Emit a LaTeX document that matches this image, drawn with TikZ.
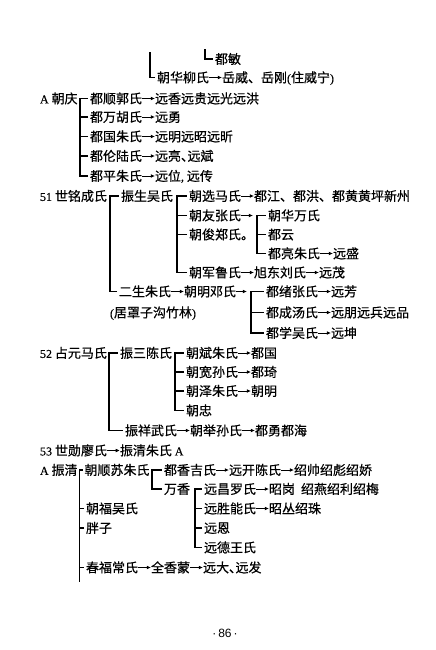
\documentclass[tikz,border=0pt]{standalone}
\usepackage{fontspec}
\setmainfont{Liberation Serif}
\setsansfont{Liberation Sans}
\newfontfamily\cjk[FakeBold=0.5]{Noto Sans CJK SC}
\newfontfamily\latf[FakeBold=0.4]{Liberation Serif}
\usetikzlibrary{arrows.meta,positioning}
\newcommand{\latn}[1]{{\latf\fontsize{12}{14}\selectfont #1}}
\newcommand{\dun}{\makebox[6.5pt][l]{、}}

\begin{document}
\begin{tikzpicture}[
  x=1pt, y=-1pt,
  node distance=13pt,
  nm/.style={anchor=west, inner sep=0pt, outer sep=0pt, text height=11.4pt, text depth=1.6pt, font=\cjk\fontsize{13}{15}\selectfont},
  arr/.style={-{Latex[length=4.2pt,width=3.8pt]}, line width=0.9pt},
  brk/.style={line width=1.1pt, shorten <=2pt, shorten >=2pt},
  tick/.style={line width=1.1pt, shorten <=2pt}
]
  \useasboundingbox (0,0) rectangle (436,650);

  \coordinate (dmtop) at (205,49);
  \node[nm] (dm) at (215,59) {都敏};
  \draw[tick] (dm.west) -| (dmtop);

  \coordinate (hltop) at (150,52);
  \node[nm] (hl) at (157,77.5) {朝华柳氏};
  \node[nm, right=of hl] (hls) {岳威、岳刚\latn{(}住威宁\latn{)}};
  \draw[tick] (hl.west) -| (hltop);
  \draw[arr] (hl) -- (hls);

  \node[nm] (cq) at (40,98.5) {\latn{A} 朝庆};
  \node[nm] (dsg) at (90,98.5) {都顺郭氏};
  \node[nm, right=of dsg] (dsgs) {远香远贵远光远洪};
  \node[nm] (dwh) at (90,117) {都万胡氏};
  \node[nm, right=of dwh] (dwhs) {远勇};
  \node[nm] (dgz) at (90,136.5) {都国朱氏};
  \node[nm, right=of dgz] (dgzs) {远明远昭远昕};
  \node[nm] (dll) at (90,156) {都伦陆氏};
  \node[nm, right=of dll] (dlls) {远亮\dun 远斌};
  \node[nm] (dpz) at (90,176) {都平朱氏};
  \node[nm, right=of dpz] (dpzs) {远位\latn{,} 远传};
  \draw[brk] (dpz.west) -| ([xshift=-10pt]dsg.west) -- (dsg.west);
  \draw[tick] (dwh.west) -- ++(-10pt,0);
  \draw[tick] (dgz.west) -- ++(-10pt,0);
  \draw[tick] (dll.west) -- ++(-10pt,0);
  \draw[arr] (dsg) -- (dsgs);
  \draw[arr] (dwh) -- (dwhs);
  \draw[arr] (dgz) -- (dgzs);
  \draw[arr] (dll) -- (dlls);
  \draw[arr] (dpz) -- (dpzs);

  \node[nm] (mc) at (40,196) {\latn{51} 世铭成氏};
  \node[nm] (zs) at (121,196) {振生吴氏};
  \node[nm] (es) at (119,291.5) {二生朱氏};
  \draw[brk] (es.west) -| ([xshift=-11pt]zs.west) -- (zs.west);

  \node[nm] (cx) at (189,196) {朝选马氏};
  \node[nm, right=of cx] (cxs) {都江、都洪、都黄黄坪新州};
  \node[nm] (cy) at (189,215.5) {朝友张氏};
  \node[nm] (cjun) at (189,234.5) {朝俊郑氏。};
  \node[nm] (cjl) at (189,272.5) {朝军鲁氏};
  \node[nm, right=of cjl] (xd) {旭东刘氏};
  \node[nm, right=of xd] (ym) {远茂};
  \draw[brk] (cjl.west) -| ([xshift=-12pt]cx.west) -- (cx.west);
  \draw[tick] (cy.west) -- ++(-12pt,0);
  \draw[tick] (cjun.west) -- ++(-12pt,0);
  \draw[arr] (cx) -- (cxs);
  \draw[arr] (cjl) -- (xd);
  \draw[arr] (xd) -- (ym);

  \node[nm] (chw) at (268,215.5) {朝华万氏};
  \node[nm] (dy) at (268,234.5) {都云};
  \node[nm] (dlz) at (268,253.5) {都亮朱氏};
  \node[nm, right=of dlz] (dlzs) {远盛};
  \coordinate (cyb) at ([xshift=-11pt]chw.west);
  \draw[brk] (dlz.west) -| (cyb) -- (chw.west);
  \draw[tick] (dy.west) -- ++(-11pt,0);
  \draw[arr, shorten >=4pt] (cy) -- (cyb);
  \draw[arr] (dlz) -- (dlzs);

  \node[nm, right=of es] (cm) {朝明邓氏};
  \node[nm] (jl) at (110,312.5) {\latn{(}居罩子沟竹林\latn{)}};
  \node[nm] (dxz) at (266,291.5) {都绪张氏};
  \node[nm, right=of dxz] (dxzs) {远芳};
  \node[nm] (dct) at (266,312.5) {都成汤氏};
  \node[nm, right=of dct] (dcts) {远朋远兵远品};
  \node[nm] (dxw) at (266,333) {都学吴氏};
  \node[nm, right=of dxw] (dxws) {远坤};
  \coordinate (cmb) at ([xshift=-15pt]dxz.west);
  \draw[brk] (dxw.west) -| (cmb) -- (dxz.west);
  \draw[tick] (dct.west) -- ++(-15pt,0);
  \draw[arr] (es) -- (cm);
  \draw[arr, shorten >=4pt] (cm) -- (cmb);
  \draw[arr] (dxz) -- (dxzs);
  \draw[arr] (dct) -- (dcts);
  \draw[arr] (dxw) -- (dxws);

  \node[nm] (zy) at (40,353) {\latn{52} 占元马氏};
  \node[nm] (zsc) at (120,353) {振三陈氏};
  \node[nm] (zxw) at (125,430.5) {振祥武氏};
  \node[nm, right=of zxw] (cjs) {朝举孙氏};
  \node[nm, right=of cjs] (dyh) {都勇都海};
  \draw[brk] (zxw.west) -| ([xshift=-11pt]zsc.west) -- (zsc.west);
  \draw[arr] (zxw) -- (cjs);
  \draw[arr] (cjs) -- (dyh);

  \node[nm] (cbz) at (186,353) {朝斌朱氏};
  \node[nm, right=of cbz] (cbzs) {都国};
  \node[nm] (cks) at (186,372) {朝宽孙氏};
  \node[nm, right=of cks] (ckss) {都琦};
  \node[nm] (czz) at (186,391) {朝泽朱氏};
  \node[nm, right=of czz] (czzs) {朝明};
  \node[nm] (cz) at (186,410.5) {朝忠};
  \draw[brk] (cz.west) -| ([xshift=-11pt]cbz.west) -- (cbz.west);
  \draw[tick] (cks.west) -- ++(-11pt,0);
  \draw[tick] (czz.west) -- ++(-11pt,0);
  \draw[arr] (cbz) -- (cbzs);
  \draw[arr] (cks) -- (ckss);
  \draw[arr] (czz) -- (czzs);

  \node[nm] (xl) at (40,450.5) {\latn{53} 世勋廖氏};
  \node[nm, right=of xl] (zqz) {振清朱氏 \latn{A}};
  \draw[arr] (xl) -- (zqz);

  \node[nm] (zq) at (40,470) {\latn{A} 振清};
  \node[nm] (csz) at (84.5,470) {朝顺苏朱氏};
  \node[nm] (cfw) at (86,508.5) {朝福吴氏};
  \node[nm] (pz) at (86,528) {胖子};
  \node[nm] (cfc) at (86,567.5) {春福常氏};
  \node[nm, right=of cfc] (qxm) {全香蒙};
  \node[nm, right=of qxm] (ydf) {远大\dun 远发};
  \coordinate (zqb) at ([xshift=-5pt]csz.west);
  \coordinate (zqend) at (79.5,582);
  \draw[tick] (csz.west) -- (zqb) -- (zqend);
  \draw[tick] (cfw.west) -- ++(-6.5pt,0);
  \draw[tick] (pz.west) -- ++(-6.5pt,0);
  \draw[tick] (cfc.west) -- ++(-6.5pt,0);
  \draw[arr] (cfc) -- (qxm);
  \draw[arr] (qxm) -- (ydf);

  \node[nm] (dxj) at (164,470) {都香吉氏};
  \node[nm, right=of dxj] (ykc) {远开陈氏};
  \node[nm, right=of ykc] (ssj) {绍帅绍彪绍娇};
  \node[nm] (wx) at (164,489) {万香};
  \draw[brk] (wx.west) -| ([xshift=-12pt]dxj.west) -- (dxj.west);
  \draw[arr] (dxj) -- (ykc);
  \draw[arr] (ykc) -- (ssj);

  \node[nm] (ycl) at (204,489) {远昌罗氏};
  \node[nm, right=of ycl] (zg) {昭岗\hspace{6pt}绍燕绍利绍梅};
  \node[nm] (ysn) at (204,508.5) {远胜能氏};
  \node[nm, right=of ysn] (zc) {昭丛绍珠};
  \node[nm] (ye) at (204,528) {远恩};
  \node[nm] (ydw) at (204,547.5) {远德王氏};
  \draw[brk] (ydw.west) -| ([xshift=-9pt]ycl.west) -- (ycl.west);
  \draw[tick] (ysn.west) -- ++(-9pt,0);
  \draw[tick] (ye.west) -- ++(-9pt,0);
  \draw[arr] (ycl) -- (zg);
  \draw[arr] (ysn) -- (zc);

  \node[font=\sffamily\fontsize{12}{14}\selectfont, inner sep=0pt] (pg) at (225,633) {·\,86\,·};
\end{tikzpicture}
\end{document}
